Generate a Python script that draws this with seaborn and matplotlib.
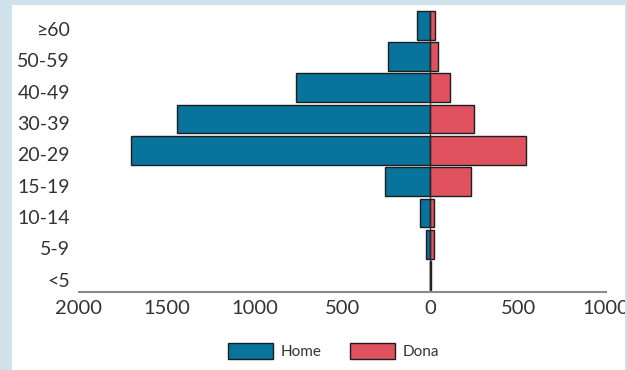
import numpy as np
import pandas as pd
import matplotlib
matplotlib.use('Agg')
import matplotlib.pyplot as plt
import matplotlib.transforms as mtrans
from matplotlib.patches import Patch, Rectangle
import seaborn as sns

# --- dados ---
grups = ['<5', '5-9', '10-14', '15-19', '20-29', '30-39', '40-49', '50-59', '≥60']
home = [3, 27, 61, 256, 1702, 1442, 763, 241, 78]
dona = [3, 19, 21, 232, 545, 249, 114, 42, 28]
ticks = [-2000, -1500, -1000, -500, 0, 500, 1000]
tick_labels = ['2000', '1500', '1000', '500', '0', '500', '1000']

BLAU = '#08739b'
VERMELL = '#e0525e'
FONS = '#cfe1ea'

sns.set_style('white')
plt.rcParams['font.family'] = ['Lato', 'DejaVu Sans']

df = pd.DataFrame({'grup': grups, 'home': home, 'dona': dona})
df['home_neg'] = -df['home']
ordre = grups[::-1]

fig = plt.figure(figsize=(6.27, 3.70), dpi=100, facecolor=FONS)
# panell blanc
fig.patches.append(Rectangle((12 / 627, 0), 613 / 627, 365 / 370,
                             transform=fig.transFigure, facecolor='white',
                             edgecolor='none', zorder=-1))
ax = fig.add_axes([79 / 627, 78.5 / 370, 527 / 627, 282 / 370])
ax.set_facecolor('none')

kw = dict(order=ordre, orient='h', width=0.92, edgecolor='#1e1e1e',
          linewidth=1.0, ax=ax)
sns.barplot(data=df, x='home_neg', y='grup', color=BLAU, saturation=1, **kw)
sns.barplot(data=df, x='dona', y='grup', color=VERMELL, saturation=1, **kw)

ax.vlines(0, -0.46, 8.46, color='#2a2a2a', lw=0.9, zorder=5)

ax.set_xlim(-2000, 1000)
ax.set_ylim(8.51, -0.5)
ax.set_xticks(ticks)
ax.set_xticklabels(tick_labels)
ax.set_xlabel('')
ax.set_ylabel('')

for s in ['top', 'right', 'left']:
    ax.spines[s].set_visible(False)
ax.spines['bottom'].set_color('#8a8a8a')
ax.spines['bottom'].set_linewidth(1.5)

ax.tick_params(axis='x', direction='in', length=7, width=1.2, color='#555555',
               labelsize=14.5, labelcolor='#333333', pad=6)
ax.tick_params(axis='y', length=0, labelsize=14, labelcolor='#333333', pad=6.5)

# les etiquetes de l'eix y queden una mica per sota del centre de la barra
offset = mtrans.ScaledTranslation(0, -4 / 100, fig.dpi_scale_trans)
for lbl in ax.get_yticklabels():
    lbl.set_transform(lbl.get_transform() + offset)

handles = [Patch(facecolor=BLAU, edgecolor='#1e1e1e', label='Home'),
           Patch(facecolor=VERMELL, edgecolor='#1e1e1e', label='Dona')]
fig.legend(handles=handles, loc='center', bbox_to_anchor=(0.532, 0.051), ncol=2,
           frameon=False, fontsize=11, handlelength=2.9, handleheight=1.25,
           handletextpad=0.5, columnspacing=1.9, labelcolor='#333333')

# franja dreta que retalla l'etiqueta
fig.patches.append(Rectangle((625 / 627, 0), 2 / 627, 1,
                             transform=fig.transFigure, facecolor=FONS,
                             edgecolor='none', zorder=10))

fig.savefig('out.png', dpi=100, facecolor=FONS)
